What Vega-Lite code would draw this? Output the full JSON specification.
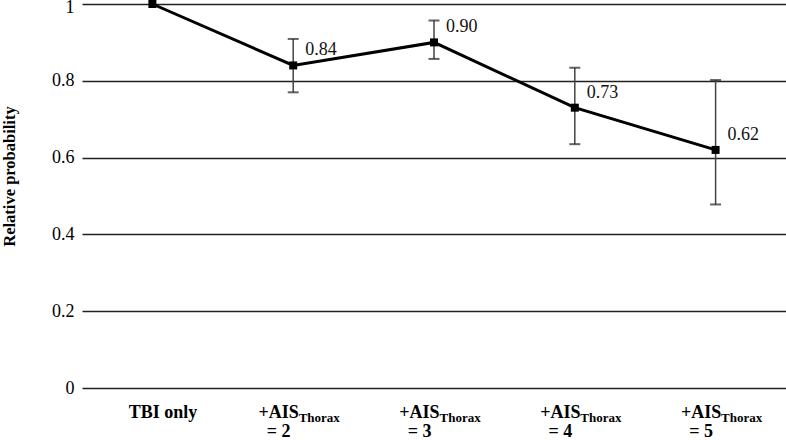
{
  "$schema": "https://vega.github.io/schema/vega-lite/v6.json",
  "width": 704,
  "height": 384,
  "autosize": {"type": "none"},
  "padding": {"left": 82, "top": 4, "right": 0, "bottom": 52},
  "background": "white",
  "config": {
    "view": {"stroke": null},
    "font": "Liberation Serif",
    "axis": {"domain": false, "ticks": false, "grid": false}
  },
  "data": {
    "values": [
      {"group": "TBI only", "p": 1.0, "lo": null, "hi": null},
      {"group": "+AIS Thorax = 2", "p": 0.84, "lo": 0.77, "hi": 0.909},
      {"group": "+AIS Thorax = 3", "p": 0.90, "lo": 0.857, "hi": 0.957},
      {"group": "+AIS Thorax = 4", "p": 0.73, "lo": 0.635, "hi": 0.834},
      {"group": "+AIS Thorax = 5", "p": 0.62, "lo": 0.478, "hi": 0.802}
    ]
  },
  "resolve": {"axis": {"x": "independent"}},
  "layer": [
    {
      "mark": {"type": "line", "color": "black", "strokeWidth": 3},
      "encoding": {
        "x": {
          "field": "group", "type": "nominal",
          "sort": ["TBI only", "+AIS Thorax = 2", "+AIS Thorax = 3", "+AIS Thorax = 4", "+AIS Thorax = 5"],
          "scale": {"type": "point", "padding": 0.5},
          "axis": {
            "orient": "bottom",
            "title": null,
            "labelExpr": "datum.value == 'TBI only' ? 'TBI only' : ['+AIS', '= ' + slice(datum.value, -1)]",
            "labelFont": "Liberation Serif",
            "labelFontSize": 18,
            "labelFontWeight": "bold",
            "labelColor": "black",
            "labelAngle": 0,
            "labelAlign": "center",
            "labelBaseline": "alphabetic",
            "labelPadding": 29,
            "labelLineHeight": 19,
            "labelOverlap": false,
            "labelOffset": {"condition": {"test": "datum.value == 'TBI only'", "value": 10}, "value": -15}
          }
        },
        "y": {
          "field": "p", "type": "quantitative",
          "scale": {"domain": [0, 1], "nice": false},
          "title": "Relative probability",
          "axis": {
            "values": [0, 0.2, 0.4, 0.6, 0.8, 1],
            "format": "~g",
            "grid": true,
            "gridColor": "#222",
            "gridWidth": 1.6,
            "labelFont": "Liberation Serif",
            "labelFontSize": 18,
            "labelColor": "black",
            "labelPadding": 8,
            "labelOffset": {"condition": {"test": "datum.value == 1", "value": 3}, "value": 0},
            "labelBound": false,
            "titleFont": "Liberation Serif",
            "titleFontSize": 16.5,
            "titleFontWeight": "bold",
            "titleColor": "black",
            "titleX": -65,
            "titleY": 172,
            "titleAngle": -90,
            "titleBaseline": "bottom"
          }
        }
      }
    },
    {
      "mark": {"type": "rule", "color": "#444", "strokeWidth": 1.5},
      "encoding": {
        "x": {"field": "group", "type": "nominal", "sort": ["TBI only", "+AIS Thorax = 2", "+AIS Thorax = 3", "+AIS Thorax = 4", "+AIS Thorax = 5"], "scale": {"type": "point", "padding": 0.5}, "axis": null},
        "y": {"field": "lo", "type": "quantitative", "scale": {"domain": [0, 1], "nice": false}, "title": "Relative probability"},
        "y2": {"field": "hi"}
      }
    },
    {
      "mark": {"type": "tick", "color": "#222", "thickness": 2, "size": 11},
      "encoding": {
        "x": {"field": "group", "type": "nominal", "sort": ["TBI only", "+AIS Thorax = 2", "+AIS Thorax = 3", "+AIS Thorax = 4", "+AIS Thorax = 5"], "scale": {"type": "point", "padding": 0.5}, "axis": null},
        "y": {"field": "lo", "type": "quantitative", "scale": {"domain": [0, 1], "nice": false}, "title": "Relative probability"}
      }
    },
    {
      "mark": {"type": "tick", "color": "#222", "thickness": 2, "size": 11},
      "encoding": {
        "x": {"field": "group", "type": "nominal", "sort": ["TBI only", "+AIS Thorax = 2", "+AIS Thorax = 3", "+AIS Thorax = 4", "+AIS Thorax = 5"], "scale": {"type": "point", "padding": 0.5}, "axis": null},
        "y": {"field": "hi", "type": "quantitative", "scale": {"domain": [0, 1], "nice": false}, "title": "Relative probability"}
      }
    },
    {
      "mark": {"type": "point", "shape": "square", "filled": true, "size": 64, "color": "black", "opacity": 1},
      "encoding": {
        "x": {"field": "group", "type": "nominal", "sort": ["TBI only", "+AIS Thorax = 2", "+AIS Thorax = 3", "+AIS Thorax = 4", "+AIS Thorax = 5"], "scale": {"type": "point", "padding": 0.5}, "axis": null},
        "y": {"field": "p", "type": "quantitative", "scale": {"domain": [0, 1], "nice": false}, "title": "Relative probability"}
      }
    },
    {
      "transform": [{"filter": "datum.group != 'TBI only'"}],
      "mark": {"type": "text", "align": "left", "baseline": "alphabetic", "dx": 12, "dy": -10, "fontSize": 18, "color": "#111"},
      "encoding": {
        "x": {
          "field": "group", "type": "nominal",
          "sort": ["TBI only", "+AIS Thorax = 2", "+AIS Thorax = 3", "+AIS Thorax = 4", "+AIS Thorax = 5"],
          "scale": {"type": "point", "padding": 0.5},
          "axis": {
            "orient": "bottom",
            "title": null,
            "labelExpr": "datum.value == 'TBI only' ? '' : 'Thorax'",
            "labelFont": "Liberation Serif",
            "labelFontSize": 13,
            "labelFontWeight": "bold",
            "labelColor": "black",
            "labelAngle": 0,
            "labelAlign": "left",
            "labelBaseline": "alphabetic",
            "labelPadding": 33,
            "labelOverlap": false,
            "labelOffset": 5
          }
        },
        "y": {"field": "p", "type": "quantitative", "scale": {"domain": [0, 1], "nice": false}, "title": "Relative probability"},
        "text": {"field": "p", "type": "quantitative", "format": ".2f"}
      }
    }
  ]
}
